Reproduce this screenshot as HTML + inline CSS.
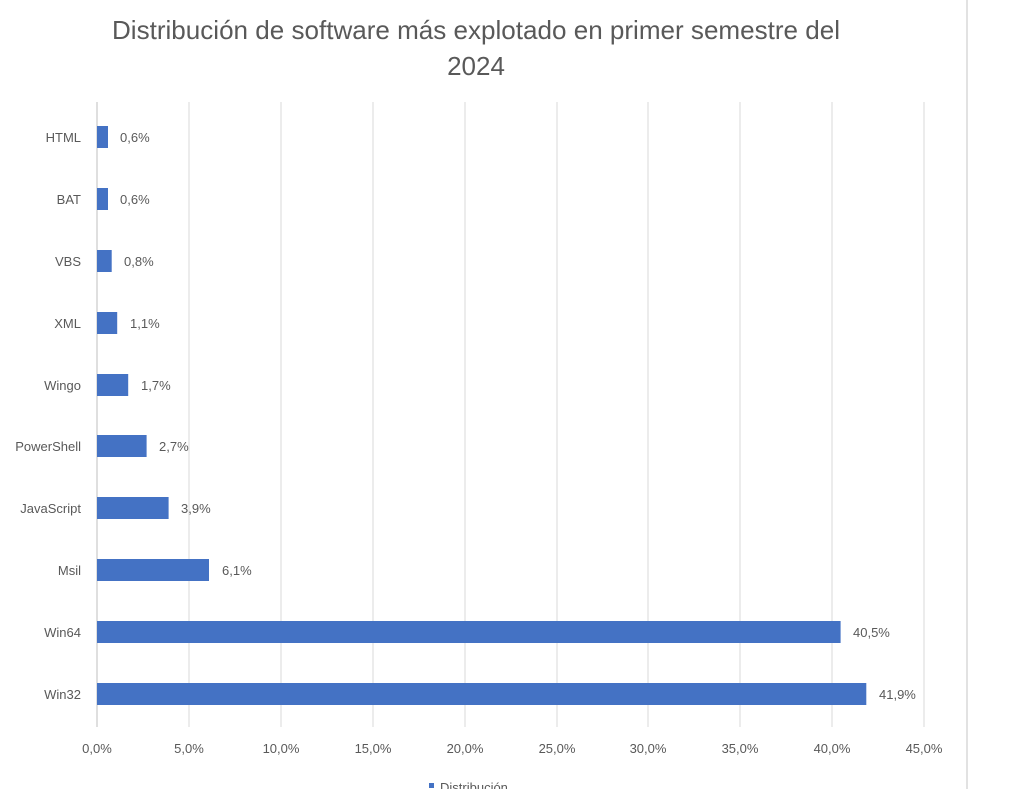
<!DOCTYPE html>
<html><head><meta charset="utf-8"><style>
body{margin:0;background:#fff;}
svg{display:block;font-family:"Liberation Sans",sans-serif;}
</style></head><body>
<svg width="1024" height="789" viewBox="0 0 1024 789">
<rect width="1024" height="789" fill="#fff"/>
<line x1="967" y1="0" x2="967" y2="789" stroke="#d9d9d9" stroke-width="1.5"/>
<text x="476" y="39" text-anchor="middle" font-size="26" fill="#595959" textLength="728" lengthAdjust="spacingAndGlyphs">Distribución de software más explotado en primer semestre del</text>
<text x="476" y="75" text-anchor="middle" font-size="26" fill="#595959">2024</text>
<g stroke="#d9d9d9" stroke-width="1">
<line x1="189" y1="102" x2="189" y2="727"/><line x1="281" y1="102" x2="281" y2="727"/>
<line x1="373" y1="102" x2="373" y2="727"/><line x1="465" y1="102" x2="465" y2="727"/>
<line x1="557" y1="102" x2="557" y2="727"/><line x1="648" y1="102" x2="648" y2="727"/>
<line x1="740" y1="102" x2="740" y2="727"/><line x1="832" y1="102" x2="832" y2="727"/>
<line x1="924" y1="102" x2="924" y2="727"/>
</g>
<line x1="97" y1="102" x2="97" y2="727" stroke="#bfbfbf"/>
<g fill="#4472c4">
<rect x="97" y="126" width="11" height="22"/>
<rect x="97" y="188" width="11" height="22"/>
<rect x="97" y="250" width="14.7" height="22"/>
<rect x="97" y="312" width="20.2" height="22"/>
<rect x="97" y="374" width="31.2" height="22"/>
<rect x="97" y="435" width="49.6" height="22"/>
<rect x="97" y="497" width="71.6" height="22"/>
<rect x="97" y="559" width="112" height="22"/>
<rect x="97" y="621" width="743.6" height="22"/>
<rect x="97" y="683" width="769.3" height="22"/>
</g>
<g font-size="13" fill="#595959" text-anchor="end">
<text x="81" y="142">HTML</text><text x="81" y="204">BAT</text><text x="81" y="266">VBS</text>
<text x="81" y="328">XML</text><text x="81" y="390">Wingo</text><text x="81" y="451">PowerShell</text>
<text x="81" y="513">JavaScript</text><text x="81" y="575">Msil</text><text x="81" y="637">Win64</text>
<text x="81" y="699">Win32</text>
</g>
<g font-size="13" fill="#595959">
<text x="120" y="142">0,6%</text><text x="120" y="204">0,6%</text><text x="124" y="266">0,8%</text>
<text x="130" y="328">1,1%</text><text x="141" y="390">1,7%</text><text x="159" y="451">2,7%</text>
<text x="181" y="513">3,9%</text><text x="222" y="575">6,1%</text><text x="853" y="637">40,5%</text>
<text x="879" y="699">41,9%</text>
</g>
<g font-size="13" fill="#595959" text-anchor="middle">
<text x="97" y="753">0,0%</text><text x="189" y="753">5,0%</text><text x="281" y="753">10,0%</text>
<text x="373" y="753">15,0%</text><text x="465" y="753">20,0%</text><text x="557" y="753">25,0%</text>
<text x="648" y="753">30,0%</text><text x="740" y="753">35,0%</text><text x="832" y="753">40,0%</text>
<text x="924" y="753">45,0%</text>
</g>
<rect x="429" y="783" width="5" height="5" fill="#4472c4"/>
<text x="440" y="792" font-size="13" fill="#595959">Distribución</text>
</svg>
</body></html>
